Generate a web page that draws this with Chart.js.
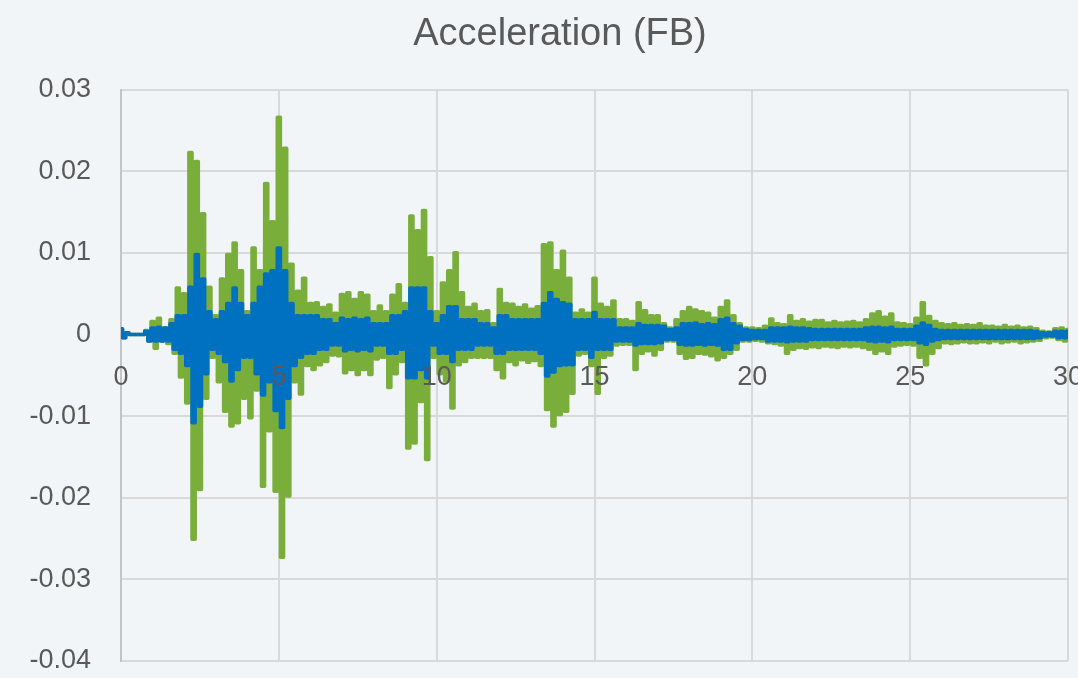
<!DOCTYPE html>
<html>
<head>
<meta charset="utf-8">
<script src="https://cdn.jsdelivr.net/npm/chart.js@4.4.1/dist/chart.umd.min.js"></script>
<style>
  html, body { margin: 0; padding: 0; background: #f2f5f7; }
  #acc-chart { display: block; background: #f2f5f7; }
</style>
</head>
<body>
<canvas id="acc-chart" width="1078" height="678"></canvas>
<script>
// values are in 1e-3 units, every 0.1 s
// peaks at t = 0, 0.2, 0.4 ... troughs at t = 0.1, 0.3, 0.5 ...
const sampleStep = 0.1;
const xTicks = [0, 5, 10, 15, 20, 25, 30];
const yTicks = [-0.04, -0.03, -0.02, -0.01, 0, 0.01, 0.02, 0.03];

const greenPeaks = [
  0.6, 0.2, 0, 0, 0.5,
  1.6, 2.0, 0.8, 1.8, 5.7,
  5.0, 22.3, 21.2, 14.8, 5.8,
  2.3, 6.8, 9.8, 11.2, 7.8,
  2.8, 10.6, 7.8, 18.5, 13.8,
  26.6, 22.8, 8.6, 5.3, 6.9,
  3.8, 3.9, 3.3, 3.6, 2.6,
  4.9, 5.1, 4.3, 5.1, 4.8,
  2.8, 3.5, 2.8, 4.8, 6.1,
  3.8, 14.5, 12.7, 15.2, 9.4,
  2.8, 6.3, 7.8, 10.0, 5.1,
  3.3, 3.7, 2.8, 2.9, 1.3,
  5.5, 3.8, 3.7, 3.3, 3.6,
  3.1, 3.4, 11.0, 11.2, 7.8,
  10.2, 6.9, 2.6, 3.0, 2.6,
  6.9, 3.7, 3.3, 4.1, 1.8,
  1.8, 1.6, 3.9, 2.9, 2.3,
  2.3, 1.3, 0.8, 1.8, 2.8,
  3.3, 3.0, 2.8, 2.6, 2.0,
  3.3, 4.1, 2.3, 1.3, 0.8,
  0.8, 0.7, 1.0, 1.9, 1.3,
  1.2, 2.3, 1.6, 1.8, 1.5,
  1.7, 1.7, 1.4, 1.6, 1.4,
  1.5, 1.6, 1.4, 1.8, 2.5,
  2.8, 2.1, 2.5, 1.4, 1.3,
  1.2, 2.0, 3.9, 2.2, 1.6,
  1.3, 1.2, 1.3, 1.1, 1.2,
  1.1, 1.3, 1.0, 1.0, 0.9,
  1.1, 0.9, 1.0, 0.8, 0.9,
  0.7, 0.4, 0.3, 0.7, 0.8,
  0.6
];
const greenTroughs = [
  -0.4, 0, 0, 0, -0.8,
  -1.7, -0.8, -1.1, -2.3, -5.2,
  -8.4, -25.1, -19.0, -7.8, -2.8,
  -5.8, -9.4, -11.2, -10.8, -7.8,
  -10.2, -6.8, -18.6, -11.8, -19.2,
  -27.3, -19.8, -5.8, -7.3, -3.8,
  -4.3, -3.7, -3.3, -2.5, -2.6,
  -4.7, -4.3, -4.9, -4.3, -4.9,
  -3.0, -2.8, -6.5, -4.8, -3.3,
  -13.9, -13.3, -8.2, -15.3, -2.8,
  -4.8, -5.7, -9.0, -3.7, -3.3,
  -2.8, -2.8, -2.8, -2.8, -4.3,
  -5.3, -3.3, -3.7, -3.1, -3.4,
  -3.2, -3.8, -9.2, -11.2, -9.8,
  -9.4, -7.2, -2.5, -2.3, -3.8,
  -7.2, -2.8, -2.5, -1.3, -1.2,
  -1.2, -4.3, -2.3, -2.0, -2.5,
  -1.8, -0.8, -0.8, -2.3, -2.9,
  -2.8, -2.3, -2.4, -2.6, -3.1,
  -2.8, -2.3, -1.8, -0.8, -0.8,
  -0.7, -0.8, -1.0, -1.1, -1.3,
  -2.3, -1.8, -1.6, -1.7, -1.5,
  -1.6, -1.4, -1.5, -1.6, -1.4,
  -1.5, -1.4, -1.6, -1.8, -2.3,
  -2.0, -2.3, -1.4, -1.3, -1.2,
  -1.3, -2.8, -3.7, -2.3, -1.6,
  -1.0, -1.1, -1.0, -0.9, -1.0,
  -1.0, -0.9, -1.0, -0.8, -1.0,
  -0.9, -0.8, -1.0, -0.9, -0.8,
  -0.7, -0.4, -0.3, -0.6, -0.8
];

const bluePeaks = [
  0.7, 0.2, 0, 0, 0.4,
  0.8, 0.9, 0.8, 1.3, 2.3,
  2.3, 5.8, 9.8, 6.8, 2.8,
  1.8, 2.8, 3.8, 5.7, 3.8,
  2.3, 3.8, 5.8, 7.4, 7.8,
  10.6, 7.8, 3.8, 2.3, 2.3,
  2.3, 2.3, 1.8, 1.8, 1.3,
  2.0, 1.8, 2.0, 1.8, 2.0,
  1.3, 1.3, 1.3, 2.3, 2.3,
  2.8, 5.7, 5.7, 5.7, 2.8,
  1.3, 2.3, 3.4, 3.4, 1.8,
  1.8, 1.8, 1.3, 1.3, 0.8,
  2.3, 2.3, 1.8, 1.8, 1.8,
  1.8, 1.8, 3.8, 5.1, 4.3,
  3.9, 3.7, 1.8, 1.8, 1.8,
  2.7, 1.8, 1.8, 1.8, 0.8,
  0.8, 0.8, 1.3, 1.1, 1.1,
  1.1, 1.0, 0.6, 0.8, 1.3,
  1.3, 1.4, 1.2, 1.3, 1.2,
  1.8, 2.0, 1.3, 1.0, 0.6,
  0.5, 0.5, 0.5, 0.8, 0.8,
  0.8, 0.9, 0.8, 0.8, 0.7,
  0.6, 0.6, 0.6, 0.6, 0.6,
  0.6, 0.6, 0.6, 0.8, 0.9,
  0.9, 0.8, 0.9, 0.6, 0.6,
  0.6, 1.0, 1.4, 1.1, 0.6,
  0.5, 0.5, 0.5, 0.5, 0.5,
  0.5, 0.5, 0.5, 0.5, 0.5,
  0.5, 0.5, 0.5, 0.5, 0.5,
  0.4, 0.2, 0.2, 0.4, 0.4,
  0.4
];
const blueTroughs = [
  -0.4, 0, 0, 0, -0.8,
  -0.8, -0.8, -0.8, -1.8, -2.3,
  -3.8, -10.8, -8.8, -4.8, -1.8,
  -2.3, -3.3, -5.7, -4.3, -2.8,
  -2.8, -4.8, -7.4, -5.8, -9.3,
  -11.4, -7.8, -3.8, -2.8, -2.3,
  -2.3, -1.8, -1.8, -1.3, -1.3,
  -2.0, -1.8, -2.0, -1.8, -2.0,
  -1.3, -1.3, -2.3, -2.3, -1.8,
  -5.3, -5.3, -4.3, -5.3, -1.3,
  -2.3, -2.3, -3.3, -1.8, -1.8,
  -1.8, -1.3, -1.3, -1.3, -2.3,
  -2.3, -1.8, -1.8, -1.8, -1.8,
  -1.8, -2.3, -5.1, -4.6, -3.8,
  -3.7, -3.7, -1.8, -1.8, -2.8,
  -1.8, -1.8, -1.8, -0.8, -0.8,
  -0.8, -1.3, -1.1, -1.1, -1.1,
  -1.0, -0.6, -0.6, -1.2, -1.3,
  -1.3, -1.2, -1.3, -1.2, -1.3,
  -1.8, -1.8, -1.0, -0.6, -0.6,
  -0.5, -0.5, -0.8, -0.8, -0.8,
  -0.9, -0.8, -0.8, -0.8, -0.6,
  -0.6, -0.6, -0.6, -0.6, -0.6,
  -0.6, -0.6, -0.6, -0.8, -0.9,
  -0.8, -0.9, -0.6, -0.6, -0.6,
  -0.6, -1.0, -1.2, -0.8, -0.6,
  -0.5, -0.5, -0.5, -0.5, -0.5,
  -0.5, -0.5, -0.5, -0.5, -0.5,
  -0.5, -0.5, -0.5, -0.5, -0.5,
  -0.4, -0.2, -0.2, -0.4, -0.4
];

// peaks and troughs alternate, so the line swings between them
let zigzag = function(peaks, troughs){
    let pts = [];
    for(let i = 0; i < peaks.length; i++){
        pts.push({x: 2 * i * sampleStep, y: peaks[i] / 1000});
        if(i < troughs.length) pts.push({x: (2 * i + 1) * sampleStep, y: troughs[i] / 1000});
    }
    return pts;
}

const textColor = '#595959';
const gridColor = '#d9d9d9';
const tickFont = {family: 'Liberation Sans', size: 27};

let seriesStyle = function(color){
    return {
        borderColor: color,
        borderWidth: 3.5,
        pointRadius: 0,
        stepped: 'middle',
        borderJoinStyle: 'round',
        borderCapStyle: 'round',
        fill: false
    };
}

// title in the reference is centred a bit left of the plot, on x = 560
const titleShift = {
    id: 'titleShift',
    afterLayout: (chart) => { if(chart.titleBlock) chart.titleBlock.left = 52; }
};

const config = {
    type: 'line',
    data: {
        datasets: [
            Object.assign({label: 'blue', data: zigzag(bluePeaks, blueTroughs)}, seriesStyle('#0070c0')),
            Object.assign({label: 'green', data: zigzag(greenPeaks, greenTroughs)}, seriesStyle('#7aae3a'))
        ]
    },
    plugins: [titleShift],
    options: {
        responsive: false,
        animation: false,
        devicePixelRatio: 1,
        layout: { padding: {left: 0, right: 10, top: 0, bottom: 17} },
        plugins: {
            legend: { display: false },
            tooltip: { enabled: false },
            title: {
                display: true,
                text: 'Acceleration (FB)',
                color: textColor,
                font: {family: 'Liberation Sans', size: 38, weight: 'normal'},
                padding: {top: 12, bottom: 32}
            }
        },
        scales: {
            x: {
                type: 'linear',
                position: {y: 0},
                min: xTicks[0],
                max: xTicks[xTicks.length - 1],
                afterBuildTicks: (s) => { s.ticks = xTicks.map(v => ({value: v})); },
                // the axis sits on y = 0, so it should take no room
                afterFit: (s) => { s.height = 0; s.paddingLeft = 0; s.paddingRight = 0; s.paddingTop = 0; s.paddingBottom = 0; },
                grid: { color: gridColor, lineWidth: 2, drawTicks: false },
                border: { display: false },
                ticks: {
                    z: 1,
                    color: textColor,
                    font: tickFont,
                    padding: 27,
                    maxRotation: 0,
                    autoSkip: false
                }
            },
            y: {
                min: yTicks[0],
                max: yTicks[yTicks.length - 1],
                afterBuildTicks: (s) => { s.ticks = yTicks.map(v => ({value: v})); },
                afterFit: (s) => { s.width = 121; s.paddingTop = 0; s.paddingBottom = 0; },
                grid: { color: gridColor, lineWidth: 2, drawTicks: false },
                border: { color: '#c4c4c4', width: 2 },
                ticks: {
                    color: textColor,
                    font: tickFont,
                    padding: 30,
                    callback: (v) => String(+v.toFixed(2))
                }
            }
        }
    }
};

new Chart(document.querySelector('#acc-chart'), config);
</script>
</body>
</html>
